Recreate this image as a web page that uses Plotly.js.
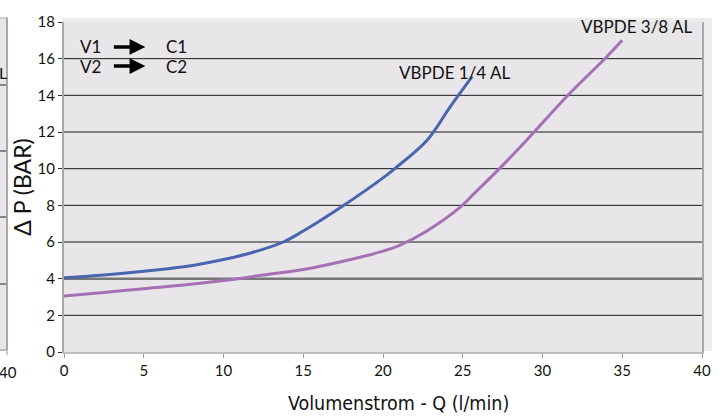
<!DOCTYPE html>
<html>
<head>
<meta charset="utf-8">
<script src="https://cdn.plot.ly/plotly-3.0.1.min.js"></script>
<style>html,body{margin:0;padding:0;background:#fff;}#chart{width:726px;height:419px;}</style>
</head>
<body>
<div id="chart"></div>
<script>
// Series: VBPDE 1/4 AL
const q14 = [0, 2.5, 5, 7.5, 10, 11.7, 13.75, 15, 17.5, 20, 20.7, 22.75, 24.2, 25.6];
const dp14 = [4.05, 4.2, 4.4, 4.65, 5.05, 5.4, 6.0, 6.6, 7.98, 9.5, 9.98, 11.54, 13.36, 15.03];
// Series: VBPDE 3/8 AL
const q38 = [0, 2.5, 5, 7.5, 10, 12.5, 15, 17.5, 20, 21, 22.75, 24.84, 25.8, 27.3, 29, 31.7, 34, 35];
const dp38 = [3.05, 3.25, 3.45, 3.65, 3.9, 4.2, 4.5, 4.95, 5.5, 5.8, 6.6, 7.9, 8.72, 10.0, 11.55, 14.1, 16.08, 17.0];
const seriesNames = ["VBPDE 1/4 AL", "VBPDE 3/8 AL"];
const xTicks = [0, 5, 10, 15, 20, 25, 30, 35, 40];
const yTicks = [0, 2, 4, 6, 8, 10, 12, 14, 16, 18];

const M = {l: 64, r: 24, t: 22, b: 67};
const W = 726, H = 419;
const pw = W - M.l - M.r, ph = H - M.t - M.b;
const px = v => (v - M.l) / pw;           // pixel -> paper x
const py = v => (H - M.b - v) / ph;       // pixel -> paper y

const font = "Lato, 'DejaVu Sans', sans-serif";
const narrow = "'DejaVu Sans Condensed', 'Liberation Sans Narrow', 'Liberation Sans', sans-serif";

const traces = [
  {x: q14, y: dp14, name: seriesNames[0], mode: 'lines', line: {color: '#4a65b0', width: 3, shape: 'spline', smoothing: 1}},
  {x: q38, y: dp38, name: seriesNames[1], mode: 'lines', line: {color: '#a670b5', width: 3, shape: 'spline', smoothing: 1}}
];

const shapes = [
  // outer light frame
  {type: 'rect', xref: 'paper', yref: 'paper', x0: px(62), x1: px(712), y0: py(351), y1: py(18), fillcolor: '#ececec', line: {width: 0}, layer: 'below'},
  // plot area
  {type: 'rect', xref: 'paper', yref: 'paper', x0: 0, x1: 1, y0: 0, y1: 1, fillcolor: '#e8e6e8', line: {width: 0}, layer: 'below'}
];
// horizontal gridlines (drawn as shapes so the one at 4 can be grey and heavier, as in the reference)
yTicks.filter(v => v > 0 && v < 18).forEach(v => {
  shapes.push({type: 'line', xref: 'paper', yref: 'y', x0: 0, x1: 1, y0: v, y1: v,
    line: v === 4 ? {color: '#767676', width: 2.5} : {color: '#1a1a1a', width: 1}, layer: 'below'});
});
// neighbour chart strip at left
shapes.push(
  {type: 'rect', xref: 'paper', yref: 'paper', x0: px(-5), x1: px(7), y0: py(350), y1: py(18), fillcolor: '#e8e6e8', line: {width: 0}, layer: 'below'},
  {type: 'line', xref: 'paper', yref: 'paper', x0: px(-5), x1: px(8), y0: py(18), y1: py(18), line: {color: '#cfcfcf', width: 2}},
  {type: 'line', xref: 'paper', yref: 'paper', x0: px(7), x1: px(7), y0: py(350), y1: py(18), line: {color: '#a8a8a8', width: 2}},
  {type: 'line', xref: 'paper', yref: 'paper', x0: px(-5), x1: px(7), y0: py(350), y1: py(350), line: {color: '#bdbdbd', width: 2}},
  {type: 'line', xref: 'paper', yref: 'paper', x0: px(7), x1: px(7), y0: py(350), y1: py(355), line: {color: '#999', width: 1}},
  {type: 'line', xref: 'paper', yref: 'paper', x0: px(-5), x1: px(6), y0: py(85), y1: py(85), line: {color: '#222', width: 1}},
  {type: 'line', xref: 'paper', yref: 'paper', x0: px(-5), x1: px(6), y0: py(151), y1: py(151), line: {color: '#222', width: 1}},
  {type: 'line', xref: 'paper', yref: 'paper', x0: px(-5), x1: px(6), y0: py(217), y1: py(217), line: {color: '#222', width: 1}},
  {type: 'line', xref: 'paper', yref: 'paper', x0: px(-5), x1: px(6), y0: py(284), y1: py(284), line: {color: '#222', width: 1}}
);

const annFont = {family: font, size: 17, color: '#111'};
const annotations = [
  {x: 0.9, y: 16.64, text: 'V1', showarrow: false, xanchor: 'left', yanchor: 'middle', font: annFont},
  {x: 0.9, y: 15.6, text: 'V2', showarrow: false, xanchor: 'left', yanchor: 'middle', font: annFont},
  {x: 6.3, y: 16.64, text: 'C1', showarrow: false, xanchor: 'left', yanchor: 'middle', font: annFont},
  {x: 6.3, y: 15.6, text: 'C2', showarrow: false, xanchor: 'left', yanchor: 'middle', font: annFont},
  {x: 5.1, y: 16.64, ax: -33, ay: 0, text: '', showarrow: true, arrowhead: 2, arrowsize: 0.9, arrowwidth: 3.5, arrowcolor: '#000'},
  {x: 5.1, y: 15.6, ax: -33, ay: 0, text: '', showarrow: true, arrowhead: 2, arrowsize: 0.9, arrowwidth: 3.5, arrowcolor: '#000'},
  {x: 24.5, y: 15.27, text: seriesNames[0], showarrow: false, xanchor: 'center', yanchor: 'middle', font: {family: font, size: 17, color: '#111'}},
  {x: 35.9, y: 17.73, text: seriesNames[1], showarrow: false, xanchor: 'center', yanchor: 'middle', font: {family: font, size: 17, color: '#111'}},
  // x axis title
  {xref: 'paper', yref: 'paper', x: px(398), y: py(404), text: 'Volumenstrom - Q (l/min)', showarrow: false, xanchor: 'center', yanchor: 'middle', font: {family: narrow, size: 19.5, color: '#111'}},
  // neighbour chart remnants
  {xref: 'paper', yref: 'paper', x: px(9), y: py(72), text: 'L', showarrow: false, xanchor: 'right', yanchor: 'middle', font: {family: font, size: 16, color: '#111'}},
  {xref: 'paper', yref: 'paper', x: px(8), y: py(372), text: '40', showarrow: false, xanchor: 'center', yanchor: 'middle', font: {family: font, size: 15, color: '#111'}}
];

const layout = {
  width: W, height: H,
  margin: M,
  paper_bgcolor: '#fff',
  plot_bgcolor: 'rgba(0,0,0,0)',
  showlegend: false,
  font: {family: font, size: 15, color: '#111'},
  xaxis: {
    range: [0, 40], tickvals: xTicks, ticktext: xTicks.map(String),
    showgrid: false, zeroline: false,
    showline: true, linecolor: '#bdbdbd', linewidth: 2, mirror: false,
    ticks: 'outside', ticklen: 4, tickcolor: '#999', tickwidth: 1,
    tickfont: {family: font, size: 15, color: '#111'}
  },
  yaxis: {
    range: [0, 18], tickvals: yTicks, ticktext: yTicks.map(String),
    showgrid: false, zeroline: false,
    showline: true, linecolor: '#a8a8a8', linewidth: 2, mirror: true,
    ticks: 'outside', ticklen: 4, tickcolor: '#333', tickwidth: 1,
    tickfont: {family: font, size: 15, color: '#111'},
    title: {text: 'Δ P (BAR)', font: {family: font, size: 23, color: '#111'}, standoff: 0}
  },
  shapes: shapes,
  annotations: annotations
};

Plotly.newPlot('chart', traces, layout, {displayModeBar: false, staticPlot: true});
</script>
</body>
</html>
